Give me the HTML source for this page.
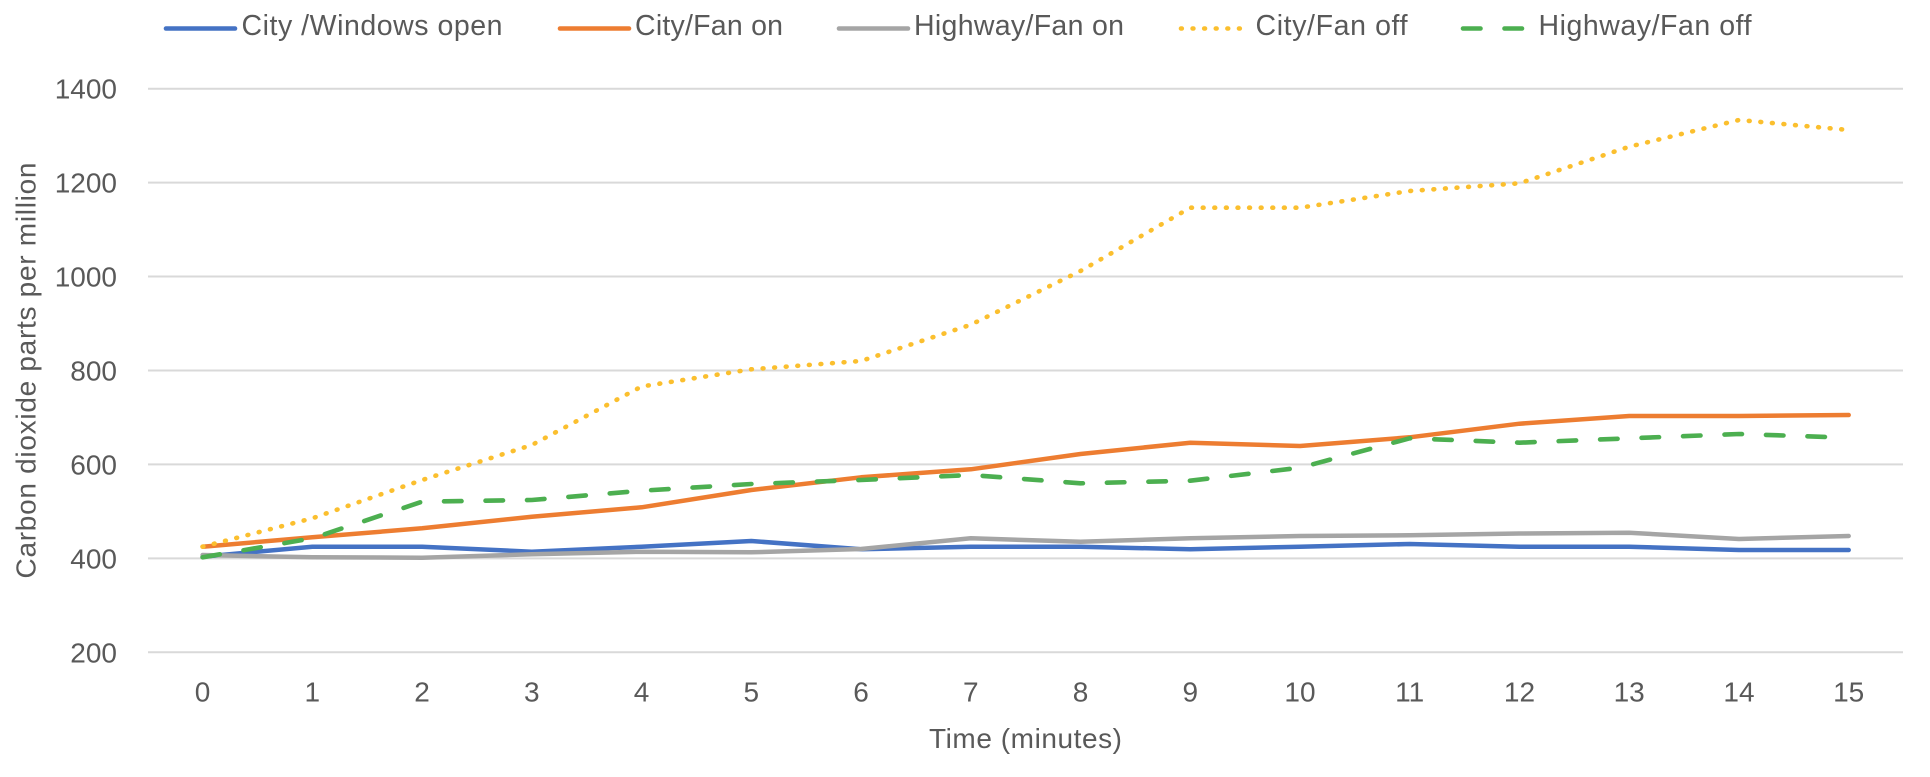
<!DOCTYPE html>
<html>
<head>
<meta charset="utf-8">
<style>
  html,body{margin:0;padding:0;background:#ffffff;}
  svg{display:block;}
  text{font-family:"Liberation Sans", sans-serif;fill:#595959;}
</style>
</head>
<body>
<svg width="1930" height="777" viewBox="0 0 1930 777" xmlns="http://www.w3.org/2000/svg">
  <rect x="0" y="0" width="1930" height="777" fill="#ffffff"/>

  <!-- Gridlines -->
  <g stroke="#D9D9D9" stroke-width="2">
    <line x1="148" y1="88.7" x2="1903" y2="88.7"/>
    <line x1="148" y1="182.6" x2="1903" y2="182.6"/>
    <line x1="148" y1="276.5" x2="1903" y2="276.5"/>
    <line x1="148" y1="370.5" x2="1903" y2="370.5"/>
    <line x1="148" y1="464.4" x2="1903" y2="464.4"/>
    <line x1="148" y1="558.4" x2="1903" y2="558.4"/>
    <line x1="148" y1="652.3" x2="1903" y2="652.3"/>
  </g>

  <!-- Y tick labels -->
  <g font-size="28" text-anchor="end">
    <text x="117" y="98.7">1400</text>
    <text x="117" y="192.6">1200</text>
    <text x="117" y="286.5">1000</text>
    <text x="117" y="380.5">800</text>
    <text x="117" y="474.4">600</text>
    <text x="117" y="568.4">400</text>
    <text x="117" y="662.3">200</text>
  </g>

  <!-- X tick labels -->
  <g font-size="28" text-anchor="middle">
    <text x="202.6" y="701.5">0</text>
    <text x="312.3" y="701.5">1</text>
    <text x="422.1" y="701.5">2</text>
    <text x="531.8" y="701.5">3</text>
    <text x="641.6" y="701.5">4</text>
    <text x="751.3" y="701.5">5</text>
    <text x="861.0" y="701.5">6</text>
    <text x="970.8" y="701.5">7</text>
    <text x="1080.5" y="701.5">8</text>
    <text x="1190.3" y="701.5">9</text>
    <text x="1300.0" y="701.5">10</text>
    <text x="1409.7" y="701.5">11</text>
    <text x="1519.5" y="701.5">12</text>
    <text x="1629.2" y="701.5">13</text>
    <text x="1739.0" y="701.5">14</text>
    <text x="1848.7" y="701.5">15</text>
  </g>

  <!-- Axis titles -->
  <text x="929" y="748" font-size="28" textLength="193" lengthAdjust="spacing">Time (minutes)</text>
  <text transform="translate(35.5,370.5) rotate(-90)" font-size="28" text-anchor="middle" textLength="416" lengthAdjust="spacing">Carbon dioxide parts per million</text>

  <!-- Series -->
  <g fill="none" stroke-linejoin="round">
    <!-- City /Windows open -->
    <polyline stroke="#4472C4" stroke-width="4.5" stroke-linecap="round"
      points="202.6,556.7 312.3,546.7 422.1,546.7 531.8,551.7 641.6,546.7 751.3,541 861.0,549.3 970.8,546.7 1080.5,546.7 1190.3,549.3 1300.0,546.7 1409.7,544 1519.5,546.7 1629.2,546.7 1739.0,550 1848.7,550"/>
    <!-- City/Fan on -->
    <polyline stroke="#ED7D31" stroke-width="4.5" stroke-linecap="round"
      points="202.6,546.7 312.3,537.3 422.1,528.3 531.8,516.7 641.6,507.3 751.3,490 861.0,477.3 970.8,469.3 1080.5,454 1190.3,442.7 1300.0,446 1409.7,437.3 1519.5,423.7 1629.2,416 1739.0,416 1848.7,415"/>
    <!-- Highway/Fan on -->
    <polyline stroke="#A5A5A5" stroke-width="4.5" stroke-linecap="round"
      points="202.6,555 312.3,557.3 422.1,557.7 531.8,554.3 641.6,551.7 751.3,552.3 861.0,549 970.8,538.3 1080.5,541.7 1190.3,538.3 1300.0,536 1409.7,535.3 1519.5,533.5 1629.2,532.7 1739.0,539 1848.7,536"/>
    <!-- City/Fan off -->
    <polyline stroke="#FBBF2E" stroke-width="4.6" stroke-linecap="round" stroke-dasharray="0.8 10.8"
      points="202.6,546.7 312.3,518.3 422.1,480 531.8,445 641.6,386.5 751.3,369.3 861.0,361 970.8,324.7 1080.5,271 1190.3,207.7 1300.0,207.7 1409.7,191 1519.5,183.3 1629.2,146.7 1739.0,120 1848.7,130"/>
    <!-- Highway/Fan off -->
    <polyline stroke="#4CAF50" stroke-width="4.6" stroke-linecap="round" stroke-dasharray="17.5 24"
      points="202.6,557.3 312.3,538.3 422.1,501.7 531.8,500 641.6,490.7 751.3,484 861.0,480 970.8,475 1080.5,483.3 1190.3,480.7 1300.0,467.7 1409.7,438.3 1519.5,442.7 1629.2,438.3 1739.0,434 1848.7,437.7"/>
  </g>

  <!-- Legend -->
  <g fill="none" stroke-width="4.6" stroke-linecap="round">
    <line x1="166" y1="28.5" x2="235" y2="28.5" stroke="#4472C4"/>
    <line x1="560" y1="28.5" x2="629" y2="28.5" stroke="#ED7D31"/>
    <line x1="839" y1="28.5" x2="908" y2="28.5" stroke="#A5A5A5"/>
    <line x1="1181" y1="28.5" x2="1244" y2="28.5" stroke="#FBBF2E" stroke-dasharray="0.8 10.8"/>
    <line x1="1463" y1="28.5" x2="1526" y2="28.5" stroke="#4CAF50" stroke-dasharray="17.5 24"/>
  </g>
  <g font-size="28.5">
    <text x="241.5" y="35" textLength="261" lengthAdjust="spacing">City /Windows open</text>
    <text x="635" y="35" textLength="148" lengthAdjust="spacing">City/Fan on</text>
    <text x="914" y="35" textLength="210" lengthAdjust="spacing">Highway/Fan on</text>
    <text x="1255.5" y="35" textLength="152" lengthAdjust="spacing">City/Fan off</text>
    <text x="1538.5" y="35" textLength="213" lengthAdjust="spacing">Highway/Fan off</text>
  </g>
</svg>
</body>
</html>
